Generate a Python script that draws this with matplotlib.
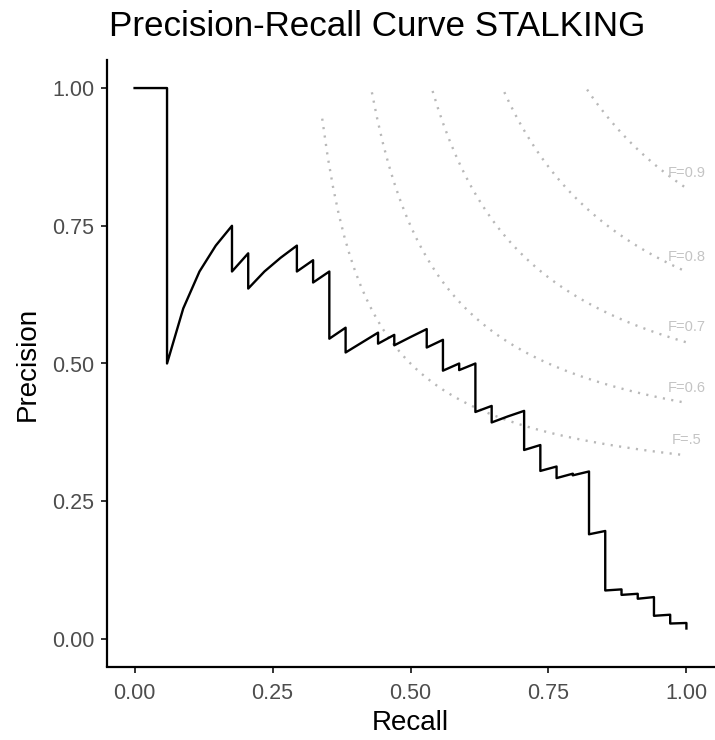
import numpy as np
import matplotlib
matplotlib.use("Agg")
import matplotlib.pyplot as plt

plt.rcParams['font.family'] = ['Liberation Sans', 'DejaVu Sans']

# PR curve points (recall, precision)
recall = [0.0, 0.0588, 0.0588, 0.0882, 0.1176, 0.1471, 0.1765, 0.1765, 0.2059, 0.2059,
          0.2353, 0.2647, 0.2941, 0.2941, 0.3235, 0.3235, 0.3529, 0.3529, 0.3824, 0.3824,
          0.4118, 0.4412, 0.4412, 0.4706, 0.4706, 0.5000, 0.5294, 0.5294, 0.5588, 0.5588,
          0.5882, 0.5882, 0.6176, 0.6176, 0.6471, 0.6471, 0.6765, 0.7059, 0.7059, 0.7353,
          0.7353, 0.7647, 0.7647, 0.7941, 0.7941, 0.8235, 0.8235, 0.8529, 0.8529, 0.8824,
          0.8824, 0.9118, 0.9118, 0.9412, 0.9412, 0.9706, 0.9706, 1.0, 1.0]
precision = [1.0, 1.0, 0.5, 0.6, 0.667, 0.714, 0.75, 0.667, 0.70, 0.636,
             0.667, 0.692, 0.714, 0.667, 0.6875, 0.647, 0.667, 0.545, 0.565, 0.52,
             0.538, 0.556, 0.536, 0.552, 0.533, 0.548, 0.5625, 0.529, 0.543, 0.487,
             0.50, 0.488, 0.50, 0.412, 0.423, 0.393, 0.404, 0.414, 0.343, 0.352,
             0.305, 0.313, 0.292, 0.30, 0.297, 0.304, 0.19, 0.196, 0.088, 0.090,
             0.080, 0.082, 0.073, 0.076, 0.042, 0.044, 0.028, 0.029, 0.019]

f_scores = [0.5, 0.6, 0.7, 0.8, 0.9]
f_labels = ["F=.5", "F=0.6", "F=0.7", "F=0.8", "F=0.9"]
x_ticks = [0.0, 0.25, 0.5, 0.75, 1.0]
y_ticks = [0.0, 0.25, 0.5, 0.75, 1.0]
tick_labels = ["0.00", "0.25", "0.50", "0.75", "1.00"]

W, H = 715, 740
fig = plt.figure(figsize=(W / 100, H / 100), dpi=100)
ax = fig.add_axes([107 / W, 1 - 666.5 / H, (714 - 107) / W, 606 / H])

# iso-F curves
rgrid = np.round(np.arange(0.01, 1.0001, 0.01), 4)
for f, lab in zip(f_scores, f_labels):
    with np.errstate(divide='ignore', invalid='ignore'):
        p = f * rgrid / (2 * rgrid - f)
    m = (p > 0) & (p <= 1.0)
    ax.plot(rgrid[m], p[m], color='#B8B8B8', lw=1.7, linestyle=(0, (0.9, 2.7)),
            dash_capstyle='butt', zorder=1)
    ax.text(1.0, f / (2 - f) + 0.027, lab, color='#C4C4C4', fontsize=10.5,
            ha='center', va='center', zorder=2)

ax.plot(recall, precision, color='black', lw=1.7, zorder=3)

ax.set_xlim(-0.05, 1.05)
ax.set_ylim(-0.05, 1.05)
ax.set_xticks(x_ticks)
ax.set_xticklabels(tick_labels)
ax.set_yticks(y_ticks)
ax.set_yticklabels(tick_labels)
for s in ['top', 'right']:
    ax.spines[s].set_visible(False)
for s in ['left', 'bottom']:
    ax.spines[s].set_linewidth(1.6)
    ax.spines[s].set_color('black')
ax.tick_params(axis='both', length=4.3, width=1.4, color='#333333',
               labelsize=15.5, labelcolor='#4D4D4D')
ax.tick_params(axis='x', pad=7.5)
ax.tick_params(axis='y', pad=5)

fig.text(410.5 / W, 1 - 729.5 / H, "Recall", fontsize=20, ha='center', va='baseline')
fig.text(35 / W, 1 - 363.5 / H, "Precision", fontsize=20, rotation=90,
         rotation_mode='anchor', ha='center', va='baseline')
fig.text(109 / W, 1 - 36 / H, "Precision-Recall Curve STALKING", fontsize=25.2,
         ha='left', va='baseline')

fig.savefig("out.png", dpi=100)
